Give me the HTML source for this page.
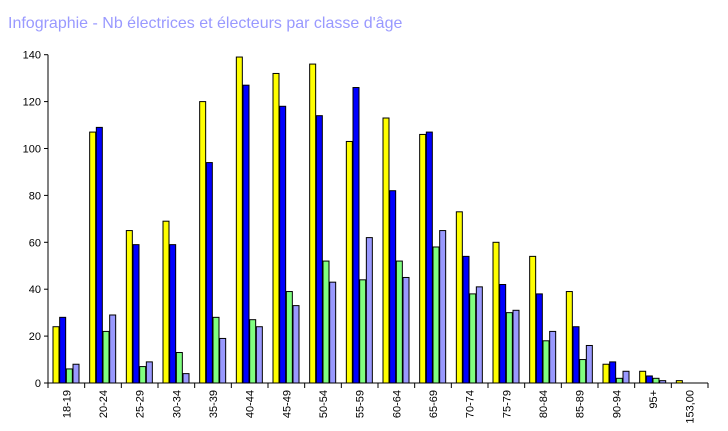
<!DOCTYPE html>
<html><head><meta charset="utf-8"><style>
body{margin:0;background:#fff;width:728px;height:426px;overflow:hidden}
svg text{font-family:"Liberation Sans",sans-serif}
</style></head><body>
<svg width="728" height="426">
<text x="8" y="28" font-size="16" fill="#9999ff">Infographie - Nb électrices et électeurs par classe d'âge</text>
<g id="plot"></g>
</svg>
<script>
const categories=["18-19","20-24","25-29","30-34","35-39","40-44","45-49","50-54","55-59","60-64","65-69","70-74","75-79","80-84","85-89","90-94","95+","153,00"];
const seriesA=[24,107,65,69,120,139,132,136,103,113,106,73,60,54,39,8,5,1];
const seriesB=[28,109,59,59,94,127,118,114,126,82,107,54,42,38,24,9,3,0];
const seriesC=[6,22,7,13,28,27,39,52,44,52,58,38,30,18,10,2,2,0];
const seriesD=[8,29,9,4,19,24,33,43,62,45,65,41,31,22,16,5,1,0];
const yTicks=[0,20,40,60,80,100,120,140];
const colors=["#ffff00","#0000ff","#80ff80","#9999ff"];
const X0=48,X1=708,Y0=383,YT=54.7,YMAX=140;
const cw=(X1-X0)/categories.length;
const y=v=>Y0-(v/YMAX)*(Y0-YT);
const g=document.getElementById('plot');
const NS="http://www.w3.org/2000/svg";
function mk(t,a){const e=document.createElementNS(NS,t);for(const k in a)e.setAttribute(k,a[k]);g.appendChild(e);return e;}
yTicks.forEach(v=>{
 const l=mk('line',{x1:X0-4,x2:X0,y1:y(v),y2:y(v),stroke:'#000'});
 
 
 const t=mk('text',{x:X0-7,y:y(v)+4,'font-size':11,'text-anchor':'end'});
 t.textContent=v;
 
 
});
[seriesA,seriesB,seriesC,seriesD].forEach((s,si)=>{
 s.forEach((v,i)=>{
  if(v<=0)return;
  const bx=X0+i*cw+5+si*6.67;
  const r=mk('rect',{x:bx,y:y(v),width:6,height:Y0-y(v),fill:colors[si],stroke:'#000','stroke-width':1});
  
  
 });
});
categories.forEach((c,i)=>{
 const tx=X0+i*cw;
 const l=mk('line',{x1:tx,x2:tx,y1:Y0,y2:Y0+5,stroke:'#000'});
 
 
 const cx=tx+cw/2+4;
 const t=mk('text',{x:cx,y:390,'font-size':11,'text-anchor':'end',transform:`rotate(-90 ${cx} 390)`});
 t.textContent=c;
 
 
});
const lx=X0+categories.length*cw;
const le=mk('line',{x1:lx,x2:lx,y1:Y0,y2:Y0+5,stroke:'#000'});


const ax=mk('line',{x1:X0,x2:X0,y1:YT,y2:Y0,stroke:'#000'});


const bx=mk('line',{x1:X0,x2:X1,y1:Y0,y2:Y0,stroke:'#000'});


</script>
</body></html>
